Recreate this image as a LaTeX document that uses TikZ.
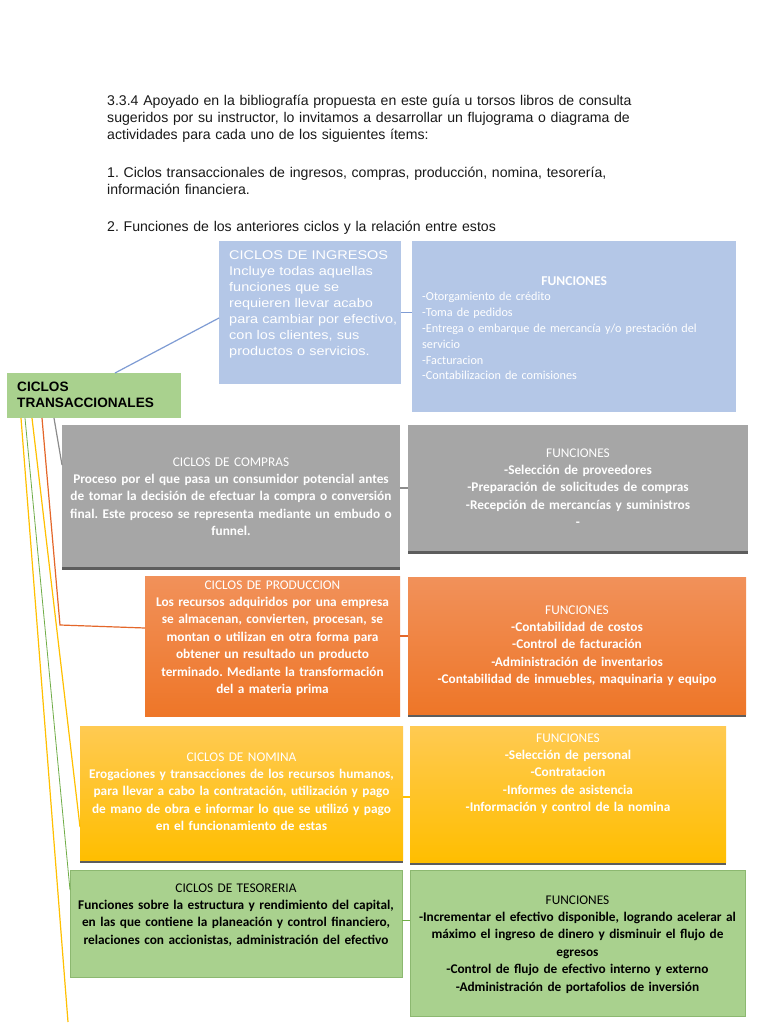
\documentclass[tikz,border=0pt]{standalone}
\usepackage{fontspec}
\setmainfont{Liberation Sans}
\newfontfamily\calibri{Carlito}
\newfontfamily\ingfont[FakeStretch=1.15]{Liberation Sans}
\usetikzlibrary{shadows}
\frenchspacing

\definecolor{ingblue}{HTML}{B4C7E7}
\definecolor{linkblue}{HTML}{7F9CD4}
\definecolor{comgray}{HTML}{A6A6A6}
\definecolor{linkgray}{HTML}{8C8C8C}
\definecolor{orangetop}{HTML}{F1915A}
\definecolor{orangebot}{HTML}{EE7628}
\definecolor{linkorange}{HTML}{E4672A}
\definecolor{yellowtop}{HTML}{FFCA52}
\definecolor{yellowbot}{HTML}{FFBE00}
\definecolor{linkyellow}{HTML}{FFC000}
\definecolor{tesgreen}{HTML}{A9D18E}
\definecolor{tesborder}{HTML}{8CB870}
\definecolor{linkgreen}{HTML}{70AD47}

\begin{document}
\begin{tikzpicture}[x=1pt,y=-1pt,
    cyclebox/.style={anchor=north west, inner sep=0pt, outer sep=0pt},
    shadowed/.style={drop shadow={shadow xshift=0pt,shadow yshift=-2.5pt,fill=black!70,opacity=.9}},
    orangebox/.style={top color=orangetop, bottom color=orangebot},
    yellowbox/.style={top color=yellowtop, bottom color=yellowbot},
    greenbox/.style={fill=tesgreen, draw=tesborder, line width=.8pt},
    boxtext/.style={anchor=base, inner sep=0pt, text width=#1, align=center, text=white,
        font=\calibri\bfseries\fontsize{13.3}{17.4}\selectfont},
    link/.style={line width=1.2pt}]
    \useasboundingbox[fill=white] (0,0) rectangle (768,1024);

    % enunciado
    \node[anchor=base west, inner sep=0pt, text width=640, align=left,
        font=\fontsize{14.1}{17}\selectfont, text=black!90] (enunciado) at (107,106)
        {3.3.4 Apoyado en la bibliografía propuesta en este guía u torsos libros de consulta\\
        sugeridos por su instructor, lo invitamos a desarrollar un flujograma o diagrama de\\
        actividades para cada uno de los siguientes ítems:\\[20.5pt]
        1. Ciclos transaccionales de ingresos, compras, producción, nomina, tesorería,\\
        información financiera.\\[20.5pt]
        2. Funciones de los anteriores ciclos y la relación entre estos};

    % raiz
    \node[cyclebox, fill=tesgreen, minimum width=174, minimum height=45] (root) at (7,373) {};
    \node[anchor=base west, inner sep=0pt, text width=170, align=left,
        font=\bfseries\fontsize{13.6}{16}\selectfont] (root-txt) at (17,391)
        {CICLOS\\TRANSACCIONALES};

    % ingresos
    \node[cyclebox, fill=ingblue, minimum width=182, minimum height=143] (ingresos) at (219,241) {};
    \node[anchor=base west, inner sep=0pt, text width=180, align=left, text=white,
        font=\ingfont\fontsize{12.6}{16}\selectfont] (ingresos-txt) at (229,259)
        {CICLOS DE INGRESOS\\Incluye todas aquellas\\funciones que se\\requieren llevar acabo\\
        para cambiar por efectivo,\\con los clientes, sus\\productos o servicios.};
    \node[cyclebox, fill=ingblue, minimum width=324, minimum height=171] (ingfun) at (412,241) {};
    \node[anchor=base west, inner sep=0pt, text width=304, align=left, text=white,
        font=\calibri\fontsize{12.2}{15.8}\selectfont] (ingfun-txt) at (422,285)
        {\makebox[304pt]{\bfseries\fontsize{13.5}{15.8}\selectfont FUNCIONES}\\
        -Otorgamiento de crédito\\-Toma de pedidos\\
        -Entrega o embarque de mercancía y/o prestación del\\servicio\\
        -Facturacion\\-Contabilizacion de comisiones};

    % compras
    \node[cyclebox, fill=comgray, shadowed, minimum width=338, minimum height=142] (compras) at (62,425) {};
    \node[boxtext=336] (compras-txt) at (231,466)
        {{\mdseries CICLOS DE COMPRAS}\\
        Proceso por el que pasa un consumidor potencial antes\\
        de tomar la decisión de efectuar la compra o conversión\\
        final. Este proceso se representa mediante un embudo o\\
        funnel.};
    \node[cyclebox, fill=comgray, shadowed, minimum width=340, minimum height=126] (comfun) at (408,425) {};
    \node[boxtext=336] (comfun-txt) at (578,457)
        {{\mdseries FUNCIONES}\\
        -Selección de proveedores\\
        -Preparación de solicitudes de compras\\
        -Recepción de mercancías y suministros\\
        -};

    % produccion
    \node[cyclebox, orangebox, minimum width=255, minimum height=140] (produccion) at (145,576) {};
    \node[boxtext=254] (produccion-txt) at (272.5,589)
        {{\mdseries CICLOS DE PRODUCCION}\\
        Los recursos adquiridos por una empresa\\
        se almacenan, convierten, procesan, se\\
        montan o utilizan en otra forma para\\
        obtener un resultado un producto\\
        terminado. Mediante la transformación\\
        del a materia prima};
    \node[cyclebox, orangebox, shadowed, minimum width=338, minimum height=137] (prodfun) at (408,577) {};
    \node[boxtext=336] (prodfun-txt) at (577,614)
        {{\mdseries FUNCIONES}\\
        -Contabilidad de costos\\
        -Control de facturación\\
        -Administración de inventarios\\
        -Contabilidad de inmuebles, maquinaria y equipo};

    % nomina
    \node[cyclebox, yellowbox, shadowed, minimum width=323, minimum height=134] (nomina) at (80,726) {};
    \node[boxtext=322] (nomina-txt) at (241.5,761)
        {{\mdseries CICLOS DE NOMINA}\\
        Erogaciones y transacciones de los recursos humanos,\\
        para llevar a cabo la contratación, utilización y pago\\
        de mano de obra e informar lo que se utilizó y pago\\
        en el funcionamiento de estas};
    \node[cyclebox, yellowbox, shadowed, minimum width=316, minimum height=136] (nomfun) at (410,726) {};
    \node[boxtext=314] (nomfun-txt) at (568,742)
        {{\mdseries FUNCIONES}\\
        -Selección de personal\\
        -Contratacion\\
        -Informes de asistencia\\
        -Información y control de la nomina};

    % tesoreria
    \node[cyclebox, greenbox, minimum width=332, minimum height=107] (tesoreria) at (70,870) {};
    \node[boxtext=332, text=black] (tesoreria-txt) at (236,892)
        {{\mdseries CICLOS DE TESORERIA}\\
        Funciones sobre la estructura y rendimiento del capital,\\
        en las que contiene la planeación y control financiero,\\
        relaciones con accionistas, administración del efectivo};
    \node[cyclebox, greenbox, minimum width=335, minimum height=146] (tesfun) at (410,870) {};
    \node[boxtext=334, text=black] (tesfun-txt) at (577.5,904)
        {{\mdseries FUNCIONES}\\
        -Incrementar el efectivo disponible, logrando acelerar al\\
        máximo el ingreso de dinero y disminuir el flujo de\\
        egresos\\
        -Control de flujo de efectivo interno y externo\\
        -Administración de portafolios de inversión};

    % conectores desde la raiz
    \coordinate (prodbend) at (60,625);
    \coordinate (finend) at (68,1022);
    \draw[link, linkblue] ([xshift=21]root.north) -- ([yshift=-5.5]ingresos.west);
    \draw[link, linkgray] ([xshift=-40]root.south) -- ([yshift=31]compras.west);
    \draw[link, linkorange] ([xshift=-52]root.south) -- (prodbend) -- ([yshift=18]produccion.west);
    \draw[link, linkyellow] ([xshift=-62]root.south) -- ([yshift=-34]nomina.west);
    \draw[link, linkgreen, line width=.8pt] ([xshift=-69]root.south) -- ([yshift=33.5]tesoreria.west);
    \draw[link, linkyellow] ([xshift=-73]root.south) -- (finend);

    % conectores hacia funciones
    \draw[link, linkblue] (ingresos.east) -- (ingresos.east -| ingfun.west);
    \draw[link, linkgray] (comfun.west -| compras.east) -- (comfun.west);
    \draw[link, linkorange] ([yshift=10]produccion.east) -- ([yshift=10]produccion.east -| prodfun.west);
    \draw[link, linkyellow] ([yshift=-4]nomina.east) -- ([yshift=-4]nomina.east -| nomfun.west);
    \draw[link, linkgreen] ([yshift=3]tesoreria.east) -- ([yshift=3]tesoreria.east -| tesfun.west);
\end{tikzpicture}
\end{document}
